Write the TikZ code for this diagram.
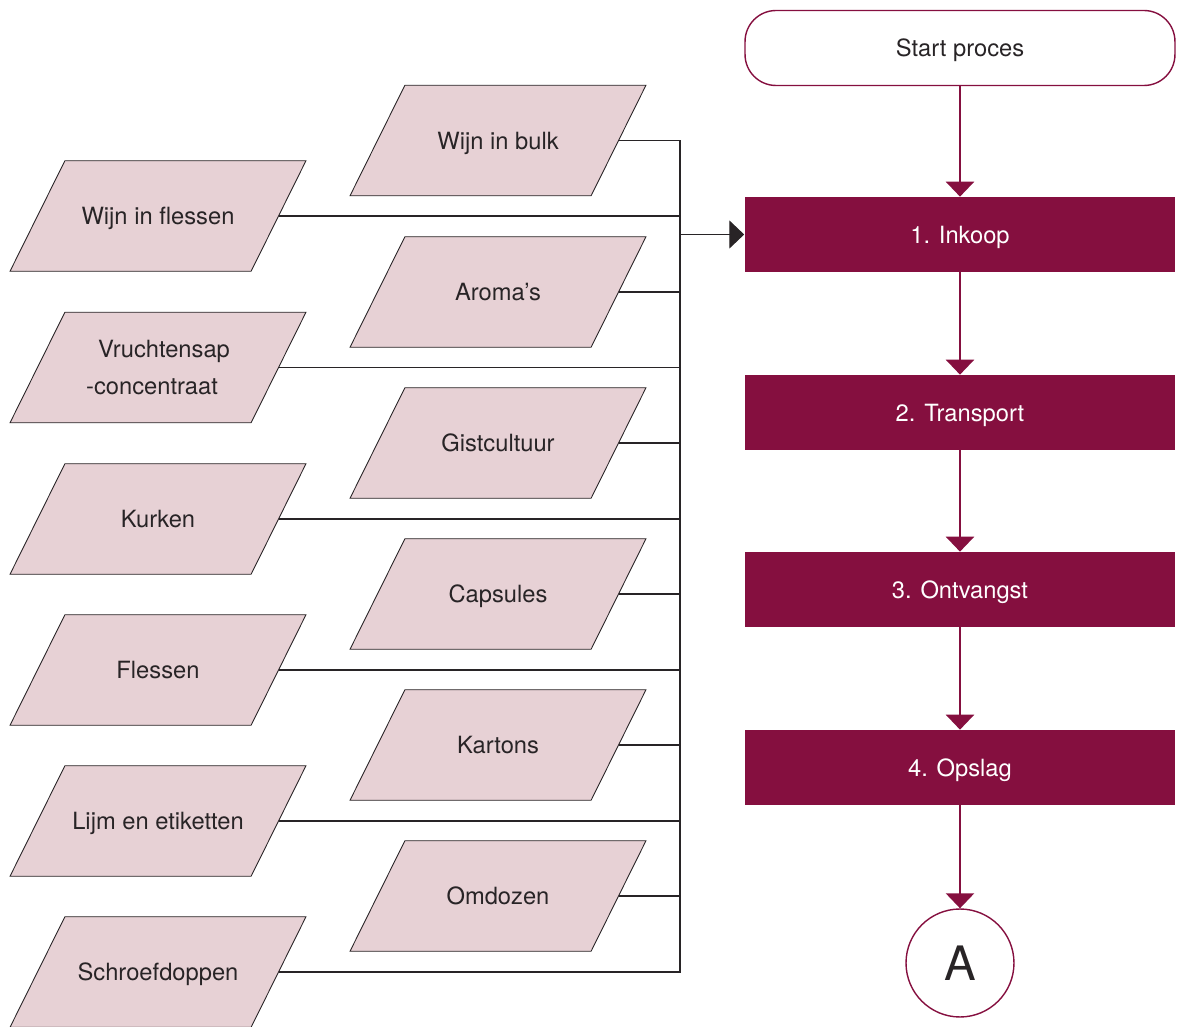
\documentclass[tikz,border=0pt]{standalone}
\usepackage{fontspec}
\setmainfont{TeX Gyre Heros}
\usetikzlibrary{shapes.geometric, arrows.meta, positioning, calc}
\definecolor{wine}{RGB}{133,15,63}
\definecolor{rose}{RGB}{231,209,213}
\definecolor{ink}{RGB}{40,36,38}

\tikzset{
	input/.style={trapezium, trapezium left angle=63.6, trapezium right angle=116.4,
		trapezium stretches body, draw=ink, line width=0.5pt, fill=rose,
		inner xsep=0pt, inner ysep=26.6pt, text height=9.7pt, text depth=0pt,
		minimum width=5.92cm, align=center,
		font=\fontsize{13.5}{21}\selectfont, text=ink},
	twoline/.style={text height=30.7pt, text depth=0pt, inner ysep=16.1pt},
	stepbox/.style={rectangle, fill=wine, text=white, minimum width=8.62cm,
		minimum height=1.5cm, font=\fontsize{13.5}{16}\selectfont, text height=9.7pt, text depth=0pt},
	startbox/.style={rectangle, rounded corners=0.62cm, draw=wine, line width=0.8pt,
		minimum width=8.6cm, minimum height=1.5cm, font=\fontsize{13.5}{16}\selectfont,
		text=ink, text height=9.7pt, text depth=0pt},
	connector/.style={circle, draw=wine, line width=0.8pt, minimum size=2.16cm, inner sep=0pt,
		font=\fontsize{27}{30}\selectfont, text=ink},
	feed/.style={draw=ink, line width=0.7pt},
	flow/.style={draw=wine, line width=1.1pt, -{Triangle[width=16pt,length=8.5pt]}}
}

\begin{document}
\begin{tikzpicture}[x=0.02cm, y=-0.02cm]
	\useasboundingbox (0,0) rectangle (1178,1027);

	% inputs, right column
	\node[input] (bulk) at (498,140.5) {Wijn in bulk};
	\node[input] (aroma) at (498,292) {Aroma's};
	\node[input] (gist) at (498,443) {Gistcultuur};
	\node[input] (caps) at (498,594) {Capsules};
	\node[input] (karton) at (498,745) {Kartons};
	\node[input] (omdoos) at (498,896) {Omdozen};
	% inputs, left column
	\node[input] (fles) at (158,216) {Wijn in flessen};
	\node[input, twoline] (sap) at (158,367.5) {\hspace*{6.8pt}Vruchtensap\\-concentraat\hspace*{6.8pt}};
	\node[input] (kurk) at (158,519) {Kurken};
	\node[input] (flessen) at (158,670) {Flessen};
	\node[input] (lijm) at (158,821) {Lijm en etiketten};
	\node[input] (schroef) at (158,972) {Schroefdoppen};

	% process
	\node[startbox] (start) at (960,48) {Start proces};
	\node[stepbox] (inkoop) at (960,234.5) {1. Inkoop};
	\node[stepbox] (transport) at (960,412.5) {2. Transport};
	\node[stepbox] (ontvangst) at (960,589.5) {3. Ontvangst};
	\node[stepbox] (opslag) at (960,767.5) {4. Opslag};
	\node[connector] (A) at (960,963) {A};

	% bus
	\coordinate (bus) at (680,0);
	\draw[feed] (bulk.right side) -| (schroef.right side -| bus) -- (schroef.right side);
	\draw[feed] (aroma.right side) -- (aroma.right side -| bus); \draw[feed] (gist.right side) -- (gist.right side -| bus);
	\draw[feed] (caps.right side) -- (caps.right side -| bus); \draw[feed] (karton.right side) -- (karton.right side -| bus);
	\draw[feed] (omdoos.right side) -- (omdoos.right side -| bus);
	\draw[feed] (fles.right side) -- (fles.right side -| bus); \draw[feed] (sap.right side) -- (sap.right side -| bus);
	\draw[feed] (kurk.right side) -- (kurk.right side -| bus); \draw[feed] (flessen.right side) -- (flessen.right side -| bus);
	\draw[feed] (lijm.right side) -- (lijm.right side -| bus);
	\draw[feed, -{Triangle[width=16pt,length=8.5pt]}] (inkoop.west -| bus) -- (inkoop.west);

	% flow
	\draw[flow] (start) -- (inkoop); \draw[flow] (inkoop) -- (transport);
	\draw[flow] (transport) -- (ontvangst); \draw[flow] (ontvangst) -- (opslag);
	\draw[flow] (opslag) -- (A);
\end{tikzpicture}
\end{document}
